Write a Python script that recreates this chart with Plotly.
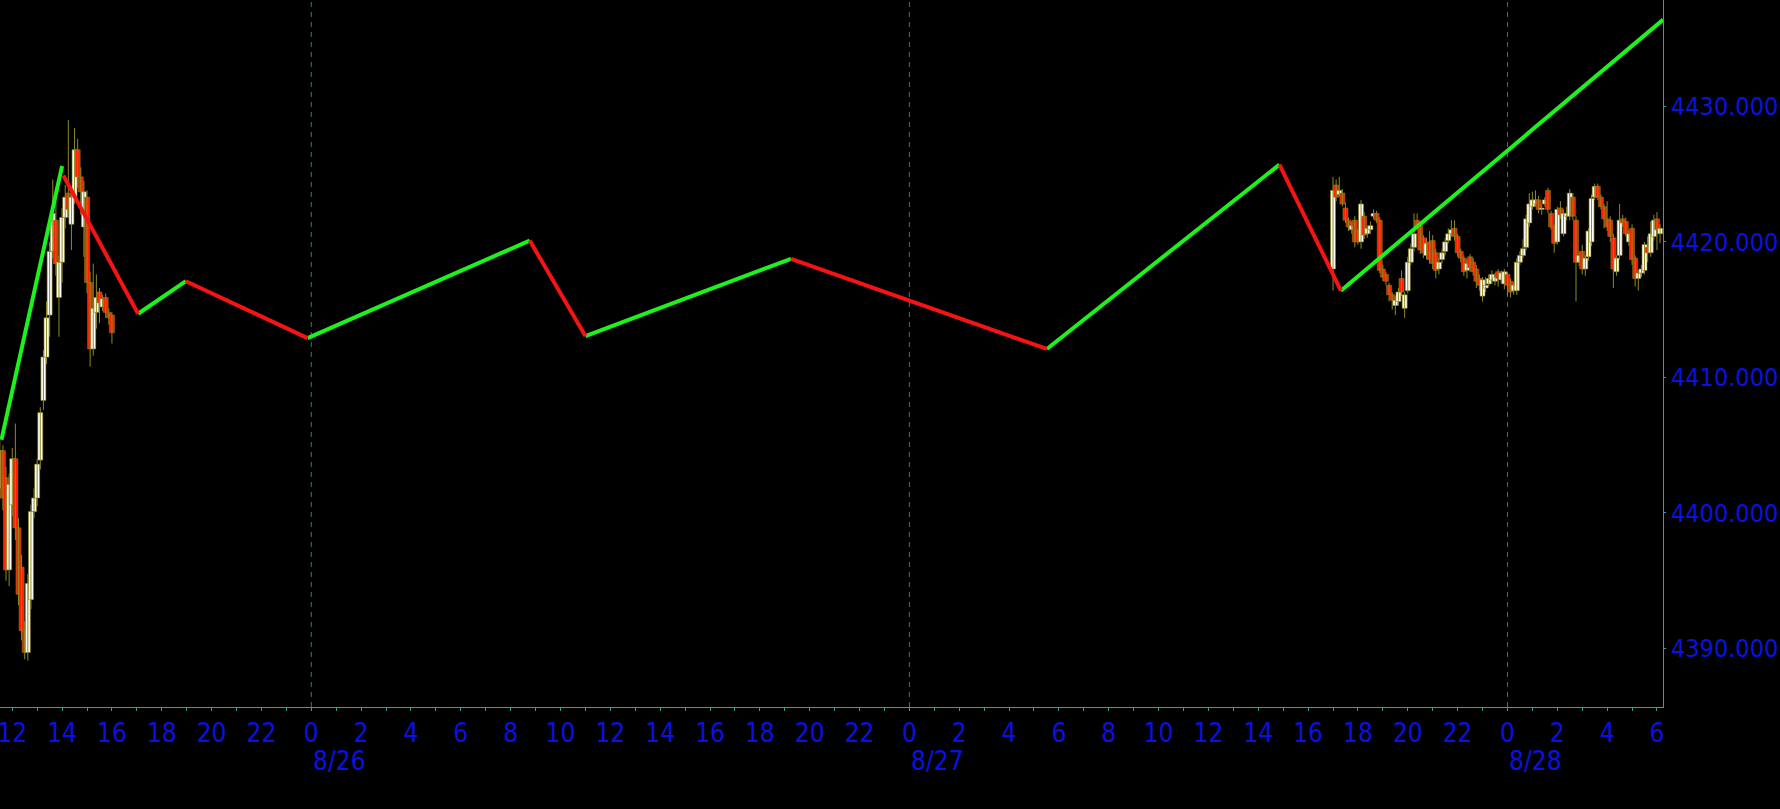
import plotly.graph_objects as go
import pandas as pd

# ---------------- data ----------------
# session 1: Fri 8/25 11:30 - 16:00, session 2: Sun 8/27 17:00 - Mon 8/28 06:07 (7.5 minute bars)
s1_start, s1_count = "2023-08-25 11:30", 37
s2_start, s2_count = "2023-08-27 17:00", 106
bar_step = "450s"

s1_open = [4401.8, 4404.6, 4402.6, 4395.8, 4400.6, 4404.0, 4398.9, 4396.0, 4391.3, 4389.7,
           4393.6, 4400.1, 4401.1, 4403.9, 4408.3, 4411.5, 4414.6, 4419.3, 4421.6, 4415.9,
           4418.5, 4421.8, 4423.6, 4421.3, 4423.3, 4426.8, 4424.8, 4421.1, 4423.3, 4417.0,
           4412.1, 4414.8, 4416.3, 4415.2, 4415.9, 4414.8, 4414.6]
s1_high = [4405.3, 4405.0, 4403.4, 4402.9, 4404.8, 4406.6, 4399.6, 4396.9, 4392.0, 4395.5,
           4400.6, 4401.8, 4404.0, 4407.8, 4412.0, 4415.6, 4420.0, 4424.6, 4423.6, 4419.0,
           4422.5, 4424.2, 4429.0, 4424.0, 4428.4, 4427.6, 4425.5, 4424.5, 4423.8, 4417.8,
           4418.4, 4417.6, 4416.6, 4416.1, 4416.2, 4415.1, 4414.8]
s1_low = [4401.0, 4400.2, 4395.0, 4394.6, 4399.8, 4398.0, 4393.2, 4390.6, 4389.2, 4389.1,
          4392.9, 4399.6, 4400.5, 4403.2, 4407.6, 4411.0, 4413.0, 4418.8, 4417.5, 4413.0,
          4417.0, 4421.0, 4421.8, 4419.4, 4422.8, 4424.0, 4422.0, 4418.9, 4416.2, 4410.8,
          4411.6, 4413.6, 4414.0, 4414.9, 4414.4, 4413.9, 4412.5]
s1_close = [4404.6, 4401.1, 4395.8, 4402.1, 4404.0, 4398.9, 4394.0, 4391.3, 4389.7, 4394.8,
            4400.1, 4401.1, 4403.6, 4407.4, 4411.5, 4414.4, 4419.3, 4422.1, 4418.4, 4418.5,
            4421.8, 4423.3, 4422.4, 4423.3, 4426.8, 4424.8, 4423.7, 4423.7, 4417.0, 4412.1,
            4415.1, 4415.9, 4415.5, 4415.8, 4414.8, 4414.4, 4413.3]

s2_open = [4418.0, 4424.2, 4423.5, 4423.6, 4422.5, 4421.6, 4420.9, 4421.6, 4420.8, 4420.0,
           4421.9, 4420.6, 4420.9, 4421.9, 4422.1, 4421.6, 4418.0, 4417.6, 4416.8, 4416.1,
           4415.3, 4415.6, 4417.3, 4415.1, 4416.4, 4418.5, 4419.6, 4421.6, 4421.2, 4420.3,
           4419.0, 4420.0, 4420.1, 4419.2, 4418.0, 4418.7, 4419.3, 4420.1, 4420.6, 4421.0,
           4420.4, 4419.3, 4418.8, 4417.9, 4418.9, 4418.5, 4418.0, 4417.3, 4416.0, 4416.6,
           4416.9, 4417.2, 4417.1, 4417.8, 4417.2, 4416.9, 4417.6, 4417.1, 4416.4, 4416.4,
           4418.5, 4419.0, 4419.6, 4421.4, 4422.6, 4422.8, 4423.1, 4422.4, 4422.8, 4423.8,
           4422.1, 4421.1, 4420.0, 4422.5, 4420.6, 4421.9, 4421.9, 4423.3, 4421.6, 4418.5,
           4419.3, 4418.0, 4418.9, 4420.0, 4423.3, 4424.1, 4423.3, 4422.6, 4421.7, 4421.6,
           4420.3, 4417.8, 4419.0, 4421.7, 4421.5, 4420.0, 4421.0, 4418.8, 4417.3, 4417.7,
           4417.9, 4419.6, 4419.2, 4420.4, 4421.7, 4420.6]
s2_high = [4424.8, 4424.6, 4424.8, 4423.9, 4422.9, 4421.8, 4421.5, 4421.9, 4421.0, 4423.1,
           4422.2, 4421.2, 4421.5, 4422.4, 4422.3, 4421.8, 4418.3, 4417.8, 4417.0, 4416.3,
           4416.0, 4416.6, 4417.9, 4416.3, 4418.9, 4419.9, 4422.1, 4422.1, 4421.5, 4420.5,
           4420.3, 4420.8, 4420.5, 4419.5, 4418.8, 4419.5, 4420.3, 4421.0, 4421.6, 4421.6,
           4420.6, 4419.5, 4419.0, 4418.7, 4419.1, 4418.8, 4418.3, 4417.6, 4417.4, 4417.4,
           4417.6, 4417.9, 4417.7, 4418.0, 4417.9, 4418.0, 4417.8, 4417.3, 4417.0, 4418.8,
           4419.3, 4420.2, 4422.0, 4423.6, 4423.7, 4423.8, 4423.4, 4422.8, 4423.3, 4424.0,
           4422.3, 4421.3, 4422.6, 4423.0, 4422.4, 4422.6, 4423.9, 4423.6, 4421.9, 4419.3,
           4419.8, 4419.0, 4421.0, 4423.5, 4424.3, 4424.3, 4423.5, 4422.8, 4423.0, 4421.9,
           4420.6, 4419.0, 4422.8, 4422.0, 4421.8, 4420.9, 4421.3, 4419.0, 4417.9, 4418.3,
           4420.0, 4420.4, 4421.5, 4422.0, 4422.2, 4421.3]
s2_low = [4416.4, 4423.0, 4423.3, 4422.6, 4421.4, 4420.8, 4420.6, 4419.6, 4419.8, 4419.5,
          4420.2, 4420.3, 4420.6, 4421.7, 4421.4, 4417.7, 4417.1, 4416.8, 4415.6, 4415.0,
          4414.6, 4415.3, 4416.0, 4414.4, 4416.2, 4418.3, 4419.3, 4420.9, 4419.1, 4418.8,
          4418.7, 4418.4, 4418.0, 4417.3, 4417.6, 4418.4, 4419.0, 4419.9, 4420.4, 4420.1,
          4418.9, 4418.5, 4417.5, 4417.3, 4417.8, 4417.5, 4416.6, 4416.4, 4415.6, 4416.3,
          4416.7, 4416.9, 4416.8, 4416.7, 4416.9, 4416.5, 4416.0, 4415.9, 4416.1, 4416.1,
          4418.3, 4418.8, 4419.4, 4421.1, 4422.4, 4422.6, 4422.1, 4422.0, 4422.6, 4422.1,
          4420.9, 4419.2, 4419.8, 4421.7, 4420.4, 4421.6, 4421.6, 4421.6, 4415.6, 4418.2,
          4417.6, 4417.5, 4418.6, 4419.7, 4423.1, 4423.1, 4422.4, 4421.0, 4420.8, 4420.0,
          4416.6, 4417.5, 4418.7, 4421.1, 4420.4, 4419.7, 4418.3, 4416.7, 4416.4, 4417.4,
          4417.6, 4418.5, 4418.9, 4420.1, 4419.4, 4419.9]
s2_close = [4423.8, 4423.3, 4423.8, 4422.8, 4421.6, 4421.1, 4421.2, 4420.0, 4420.0, 4422.8,
            4420.5, 4421.0, 4421.2, 4422.1, 4421.6, 4417.9, 4417.4, 4417.1, 4416.1, 4415.7,
            4415.7, 4416.3, 4416.3, 4416.1, 4418.5, 4419.5, 4420.6, 4421.1, 4419.4, 4419.2,
            4419.9, 4418.7, 4418.4, 4417.9, 4418.5, 4419.2, 4420.0, 4420.6, 4420.9, 4420.4,
            4419.2, 4418.8, 4417.8, 4418.4, 4418.1, 4417.8, 4417.1, 4416.8, 4417.2, 4416.8,
            4417.3, 4417.6, 4417.4, 4417.3, 4417.7, 4417.8, 4416.8, 4416.3, 4416.8, 4418.5,
            4419.0, 4419.5, 4421.7, 4422.8, 4423.1, 4423.1, 4422.4, 4422.5, 4423.1, 4422.4,
            4421.1, 4419.9, 4422.4, 4422.0, 4422.1, 4422.1, 4423.6, 4421.9, 4418.5, 4419.0,
            4418.0, 4418.8, 4420.8, 4423.2, 4424.1, 4423.3, 4422.6, 4421.7, 4421.1, 4420.4,
            4418.0, 4418.8, 4421.6, 4421.4, 4420.6, 4420.6, 4418.7, 4417.3, 4417.7, 4418.0,
            4419.8, 4419.2, 4420.6, 4421.6, 4420.9, 4421.0]

# zigzag legs: start time, start price, end time, end price
zz_t0 = ["2023-08-25 11:34", "2023-08-25 14:03", "2023-08-25 17:03", "2023-08-25 18:58",
         "2023-08-25 23:51", "2023-08-26 08:46", "2023-08-26 11:00", "2023-08-26 19:15",
         "2023-08-27 05:31", "2023-08-27 14:51", "2023-08-27 17:19"]
zz_p0 = [4405.4, 4424.9, 4414.7, 4417.1, 4412.9, 4420.1, 4413.05, 4418.75, 4412.1, 4425.7, 4416.4]
zz_t1 = ["2023-08-25 14:00", "2023-08-25 17:03", "2023-08-25 18:58", "2023-08-25 23:51",
         "2023-08-26 08:46", "2023-08-26 11:00", "2023-08-26 19:15", "2023-08-27 05:31",
         "2023-08-27 14:51", "2023-08-27 17:19", "2023-08-28 06:15"]
zz_p1 = [4425.6, 4414.7, 4417.1, 4412.9, 4420.1, 4413.05, 4418.75, 4412.1, 4425.7, 4416.4, 4436.4]

day_starts = ["2023-08-26", "2023-08-27", "2023-08-28"]
day_labels = ["8/26", "8/27", "8/28"]
y_ticks = [4390, 4400, 4410, 4420, 4430]

# ---------------- style ----------------
BG = "#000000"
AXIS = "#3a9c9c"
GRID = "#2e7d7d"
TXT = "#0a12e0"
UP_FILL = "#ffffff"
DN_FILL = "#ff1e00"
OUTLINE = "#8c8018"
WICK = "#8f8a20"
ZZ_UP = "#1cf21c"
ZZ_DN = "#f41414"
FONT = "DejaVu Sans Condensed, Liberation Sans, sans-serif"

times = list(pd.date_range(s1_start, periods=s1_count, freq=bar_step)) + \
        list(pd.date_range(s2_start, periods=s2_count, freq=bar_step))
times = [t.strftime("%Y-%m-%d %H:%M:%S") for t in times]
opens = s1_open + s2_open
highs = s1_high + s2_high
lows = s1_low + s2_low
closes = s1_close + s2_close

fig = go.Figure()

# wicks
wx, wy = [], []
for t, h, l in zip(times, highs, lows):
    wx += [t, t, None]
    wy += [l, h, None]
fig.add_trace(go.Scatter(x=wx, y=wy, mode="lines", line=dict(color=WICK, width=1),
                         hoverinfo="skip", showlegend=False))

# bodies
base = [min(o, c) for o, c in zip(opens, closes)]
height = [max(abs(c - o), 0.08) for o, c in zip(opens, closes)]
cols = [UP_FILL if c >= o else DN_FILL for o, c in zip(opens, closes)]
fig.add_trace(go.Bar(x=times, base=base, y=height, width=720000,
                     marker=dict(color=cols, line=dict(color=OUTLINE, width=0.6)),
                     hoverinfo="skip", showlegend=False))

# zigzag
gx, gy, rx, ry = [], [], [], []
for t0, p0, t1, p1 in zip(zz_t0, zz_p0, zz_t1, zz_p1):
    if p1 > p0:
        gx += [t0, t1, None]; gy += [p0, p1, None]
    else:
        rx += [t0, t1, None]; ry += [p0, p1, None]
fig.add_trace(go.Scatter(x=gx, y=gy, mode="lines", line=dict(color=ZZ_UP, width=4),
                         hoverinfo="skip", showlegend=False))
fig.add_trace(go.Scatter(x=rx, y=ry, mode="lines", line=dict(color=ZZ_DN, width=4),
                         hoverinfo="skip", showlegend=False))

for d, lab in zip(day_starts, day_labels):
    fig.add_shape(type="line", xref="x", yref="paper", x0=d, x1=d, y0=0, y1=1,
                  line=dict(color=GRID, width=1, dash="5px,5px"), layer="below")
    fig.add_annotation(x=d, y=0, xref="x", yref="paper", text=lab, showarrow=False,
                       xanchor="left", yanchor="middle", yshift=-54,
                       font=dict(family=FONT, size=26, color=TXT))

fig.update_layout(
    width=1780, height=809,
    paper_bgcolor=BG, plot_bgcolor=BG,
    margin=dict(l=0, r=117, t=0, b=102, autoexpand=False),
    barmode="overlay", showlegend=False, hovermode=False,
    xaxis=dict(
        type="date", range=["2023-08-25 11:30:30", "2023-08-28 06:14:30"],
        automargin=False,
        showline=True, linecolor=AXIS, linewidth=1,
        ticks="outside", ticklen=3, tickcolor=AXIS, tickwidth=1,
        tick0="2023-08-25 00:00", dtick=7200000, tickformat="%-H",
        ticklabeloverflow="allow",
        minor=dict(dtick=3600000, ticks="outside", ticklen=3, tickcolor=AXIS, showgrid=False),
        showgrid=False, zeroline=False,
        tickfont=dict(family=FONT, size=26, color=TXT),
    ),
    yaxis=dict(
        side="right", range=[4385.68, 4437.85],
        automargin=False,
        tickvals=y_ticks, tickformat=".3f",
        ticklabeloverflow="allow",
        showline=True, linecolor=AXIS, linewidth=1,
        ticks="outside", ticklen=2, tickcolor=AXIS,
        showgrid=False, zeroline=False,
        tickfont=dict(family=FONT, size=25, color=TXT),
    ),
)

fig.write_html("out.html", config={"displayModeBar": False},
               post_script="document.body.style.margin='0';")
